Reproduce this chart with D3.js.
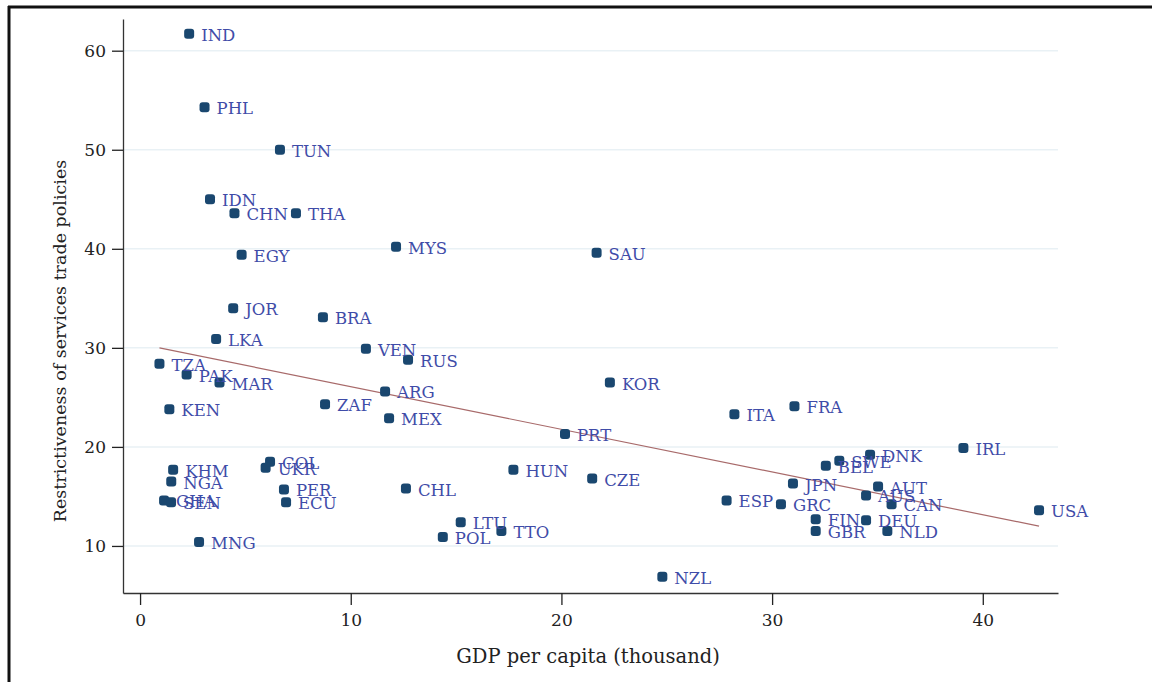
<!DOCTYPE html>
<html>
<head>
<meta charset="utf-8">
<script src="https://cdn.jsdelivr.net/npm/d3@7"></script>
<style>
  body { margin: 0; background: #fff; }
  svg { display: block; }
</style>
</head>
<body>
<div id="chart"></div>
<script>
var w = 1152,
	h = 682;

// country codes, GDP per capita (thousand), restrictiveness index
var countries = ["IND","PHL","TUN","IDN","CHN","THA","EGY","MYS","SAU","JOR","BRA","LKA","VEN","RUS","TZA","PAK","MAR","KOR","ARG","ZAF","FRA","KEN","ITA","MEX","PRT","IRL","DNK","SWE","BEL","COL","UKR","KHM","HUN","CZE","JPN","NGA","AUT","CHL","PER","AUS","ESP","GHA","SEN","ECU","GRC","CAN","USA","FIN","DEU","LTU","TTO","GBR","NLD","POL","MNG","NZL"];
var gdp = [2.33,3.06,6.64,3.32,4.48,7.40,4.82,12.15,21.67,4.42,8.68,3.61,10.72,12.72,0.92,2.21,3.77,22.3,11.63,8.78,31.06,1.39,28.21,11.82,20.17,39.08,34.65,33.19,32.55,6.17,5.96,1.57,17.72,21.46,30.99,1.48,35.03,12.62,6.83,34.46,27.84,1.14,1.47,6.93,30.42,35.67,42.67,32.07,34.46,15.22,17.15,32.07,35.47,14.37,2.80,24.79];
var rest = [61.7,54.3,50.0,45.0,43.6,43.6,39.4,40.2,39.6,34.0,33.1,30.9,29.9,28.8,28.4,27.3,26.5,26.5,25.6,24.3,24.1,23.8,23.3,22.9,21.3,19.9,19.2,18.6,18.1,18.5,17.9,17.7,17.7,16.8,16.3,16.5,16.0,15.8,15.7,15.1,14.6,14.6,14.4,14.4,14.2,14.2,13.6,12.7,12.6,12.4,11.5,11.5,11.5,10.9,10.4,6.9];

// fitted line end points (as drawn)
var fitX = [0.92, 42.67];
var fitY = [30.0, 12.0];

var xTicks = [0, 10, 20, 30, 40];
var yTicks = [10, 20, 30, 40, 50, 60];

var xTitle = "GDP per capita (thousand)";
var yTitle = "Restrictiveness of services trade policies";

var svg = d3.select("#chart")
	.append("svg")
	.attr("width", w)
	.attr("height", h);

var plotL = 123, plotR = 1058, plotT = 19, plotB = 593;

var x = d3.scaleLinear()
	.domain([-0.81, 43.57])
	.range([plotL, plotR]);

var y = d3.scaleLinear()
	.domain([5.25, 63.2])
	.range([plotB, plotT]);

var serif = "'DejaVu Serif', 'Liberation Serif', serif";

// outer frame (top and left edges)
svg.append("line")
	.attr("x1", 8).attr("x2", w).attr("y1", 7).attr("y2", 7)
	.attr("stroke", "#111").attr("stroke-width", 3);
svg.append("line")
	.attr("x1", 9).attr("x2", 9).attr("y1", 6).attr("y2", h)
	.attr("stroke", "#111").attr("stroke-width", 3);

// gridlines
svg.append("g")
	.selectAll("line")
	.data(yTicks)
	.enter().append("line")
	.attr("x1", plotL).attr("x2", plotR)
	.attr("y1", function(d){ return y(d); })
	.attr("y2", function(d){ return y(d); })
	.attr("stroke", "#e9f1f5")
	.attr("stroke-width", 1.5);

// axes
var gx = svg.append("g")
	.attr("transform", `translate(0,${plotB})`)
	.call(d3.axisBottom(x).tickValues(xTicks).tickSize(12).tickSizeOuter(0).tickPadding(9));
var gy = svg.append("g")
	.attr("transform", `translate(${plotL},0)`)
	.call(d3.axisLeft(y).tickValues(yTicks).tickSize(11).tickSizeOuter(0).tickPadding(6));

[gx, gy].forEach(function(g){
	g.select(".domain").attr("stroke", "#333").attr("stroke-width", 1.3);
	g.selectAll(".tick line").attr("stroke", "#222").attr("stroke-width", 1.3);
	g.selectAll(".tick text")
		.attr("fill", "#222")
		.style("font-family", serif)
		.style("font-size", "17px");
});

// fitted line
svg.append("line")
	.attr("x1", x(fitX[0])).attr("y1", y(fitY[0]))
	.attr("x2", x(fitX[1])).attr("y2", y(fitY[1]))
	.attr("stroke", "#a86a6a")
	.attr("stroke-width", 1.2);

var pts = countries.map(function(c, i){
	return { code: c, gdp: gdp[i], r: rest[i] };
});

// markers (rounded squares, like the original's dots)
var ms = 10;
svg.append("g")
	.selectAll("rect")
	.data(pts)
	.enter().append("rect")
	.attr("x", function(d){ return x(d.gdp) - ms / 2; })
	.attr("y", function(d){ return y(d.r) - ms / 2; })
	.attr("width", ms)
	.attr("height", ms)
	.attr("rx", 3)
	.attr("fill", "#1a476f");

// labels
svg.append("g")
	.selectAll("text")
	.data(pts)
	.enter().append("text")
	.attr("x", function(d){ return x(d.gdp) + 12; })
	.attr("y", function(d){ return y(d.r) + 1.5; })
	.attr("dominant-baseline", "central")
	.attr("fill", "#3f4ca8")
	.style("font-family", serif)
	.style("font-size", "16.5px")
	.text(function(d){ return d.code; });

// axis titles
svg.append("text")
	.attr("x", 588)
	.attr("y", 663)
	.attr("text-anchor", "middle")
	.attr("fill", "#222")
	.style("font-family", serif)
	.style("font-size", "19.5px")
	.text(xTitle);

svg.append("text")
	.attr("transform", "translate(66,341) rotate(-90)")
	.attr("text-anchor", "middle")
	.attr("fill", "#222")
	.style("font-family", serif)
	.style("font-size", "17.5px")
	.text(yTitle);
</script>
</body>
</html>
